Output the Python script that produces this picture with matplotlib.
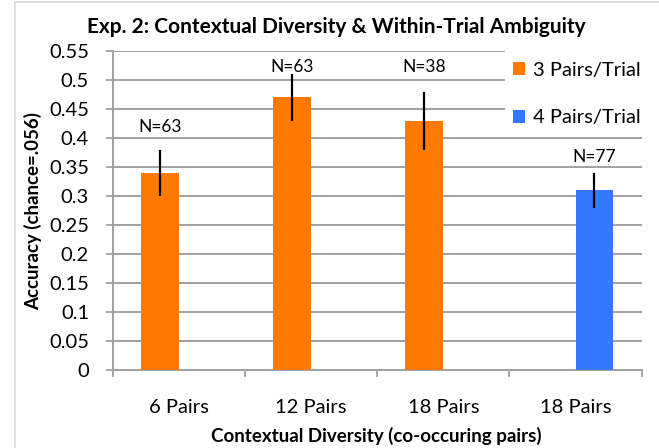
import matplotlib
matplotlib.use("Agg")
import matplotlib.pyplot as plt
from matplotlib.patches import Patch, Rectangle
from matplotlib.lines import Line2D
import numpy as np

# ---- data ----
categories = ["6 Pairs", "12 Pairs", "18 Pairs", "18 Pairs"]
series_names = ["3 Pairs/Trial", "4 Pairs/Trial"]
acc_3pairs = [0.34, 0.47, 0.43, None]
err_3pairs = [0.04, 0.04, 0.05, None]
acc_4pairs = [None, None, None, 0.31]
err_4pairs = [None, None, None, 0.03]
n_labels = ["N=63", "N=63", "N=38", "N=77"]
n_label_y = [0.419, 0.522, 0.522, 0.367]
yticks = [0, 0.05, 0.1, 0.15, 0.2, 0.25, 0.3, 0.35, 0.4, 0.45, 0.5, 0.55]

title = "Exp. 2: Contextual Diversity & Within-Trial Ambiguity"
xlabel = "Contextual Diversity (co-occuring pairs)"
ylabel = "Accuracy (chance=.056)"

# ---- style ----
FONT = "Lato"
plt.rcParams["font.family"] = [FONT, "DejaVu Sans"]
ORANGE = "#FF7A00"
BLUE = "#3379FF"
GRID = "#A0A0A0"

W, H = 659, 448
fig = plt.figure(figsize=(W / 100, H / 100), dpi=100)
ax = fig.add_axes([112.7 / W, 1 - 370 / H, (641.7 - 112.7) / W, (370 - 51) / H])

x = np.arange(len(categories))
bw = 0.287
off = 0.143

def vals(lst):
    return [np.nan if v is None else v for v in lst]

a3, e3 = vals(acc_3pairs), vals(err_3pairs)
a4, e4 = vals(acc_4pairs), vals(err_4pairs)

ax.bar(x - off, a3, bw, color=ORANGE, zorder=3, label=series_names[0])
ax.bar(x + off, a4, bw, color=BLUE, zorder=3, label=series_names[1])
ax.errorbar(x - off, a3, yerr=e3, fmt="none", ecolor="black", elinewidth=1.6, capsize=0, zorder=4)
ax.errorbar(x + off, a4, yerr=e4, fmt="none", ecolor="black", elinewidth=1.6, capsize=0, zorder=4)

# N labels above bars
for i, (lab, ly) in enumerate(zip(n_labels, n_label_y)):
    xi = x[i] - off if not np.isnan(a3[i]) else x[i] + off
    ax.text(xi, ly, lab, ha="center", va="center", fontsize=12.5, color="black", zorder=5)

ax.set_xlim(-0.5, len(categories) - 0.5)
ax.set_ylim(0, 0.55)
ax.set_yticks(yticks)
ax.set_yticklabels([f"{v:g}" for v in yticks])
ax.yaxis.grid(True, color=GRID, linewidth=1.4, zorder=0)
ax.set_axisbelow(True)

# x: ticks at category boundaries, labels at centers
ax.set_xticks(np.arange(-0.5, len(categories)), minor=False)
ax.set_xticklabels([])
ax.set_xticks(x, minor=True)
ax.set_xticklabels(categories, minor=True)
ax.tick_params(axis="x", which="major", length=5, width=1.3, color=GRID, direction="out")
ax.tick_params(axis="x", which="minor", length=0, pad=21, labelsize=14.5)
ax.tick_params(axis="y", which="major", length=5, width=1.3, color=GRID, direction="out",
               pad=12, labelsize=14.5)

for s in ["top", "right"]:
    ax.spines[s].set_visible(False)
for s in ["left", "bottom"]:
    ax.spines[s].set_color(GRID)
    ax.spines[s].set_linewidth(1.4)

ax.set_xlabel(xlabel, fontsize=13.5, fontweight="bold")
ax.set_ylabel(ylabel, fontsize=13.5, fontweight="bold")
ax.xaxis.label.set_va("center")
ax.yaxis.label.set_va("center")
ax.xaxis.set_label_coords((376 - 112.7) / (641.7 - 112.7), -(436 - 370) / (370 - 51))
ax.yaxis.set_label_coords(-(112.7 - 33) / (641.7 - 112.7), 0.5)

fig.text(336 / W, 1 - 27 / H, title, ha="center", va="center", fontsize=15, fontweight="bold")

# white backdrop behind the legend (hides gridlines there, as in the reference)
ax.add_patch(Rectangle((505 / W, 1 - 132 / H), 140 / W, 88 / H, transform=fig.transFigure,
                       facecolor="white", edgecolor="none", zorder=1, clip_on=False))

# legend
handles = [Patch(facecolor=ORANGE, edgecolor="none"), Patch(facecolor=BLUE, edgecolor="none")]
leg = ax.legend(handles, series_names, loc="upper left",
                bbox_to_anchor=(513 / W, 1 - 62 / H), bbox_transform=fig.transFigure,
                frameon=False, fontsize=14.5, handlelength=0.62, handleheight=0.62,
                handletextpad=0.35, labelspacing=1.5, borderpad=0, borderaxespad=0)
leg.set_zorder(10)

# chart-area border (top and left visible)
fig.add_artist(Line2D([14.5 / W, 1], [1 - 2.5 / H, 1 - 2.5 / H], transform=fig.transFigure,
                      color="#D9D9D9", linewidth=1.2))
fig.add_artist(Line2D([14.5 / W, 14.5 / W], [0, 1 - 2.5 / H], transform=fig.transFigure,
                      color="#D9D9D9", linewidth=1.2))

fig.savefig("out.png", dpi=100)
